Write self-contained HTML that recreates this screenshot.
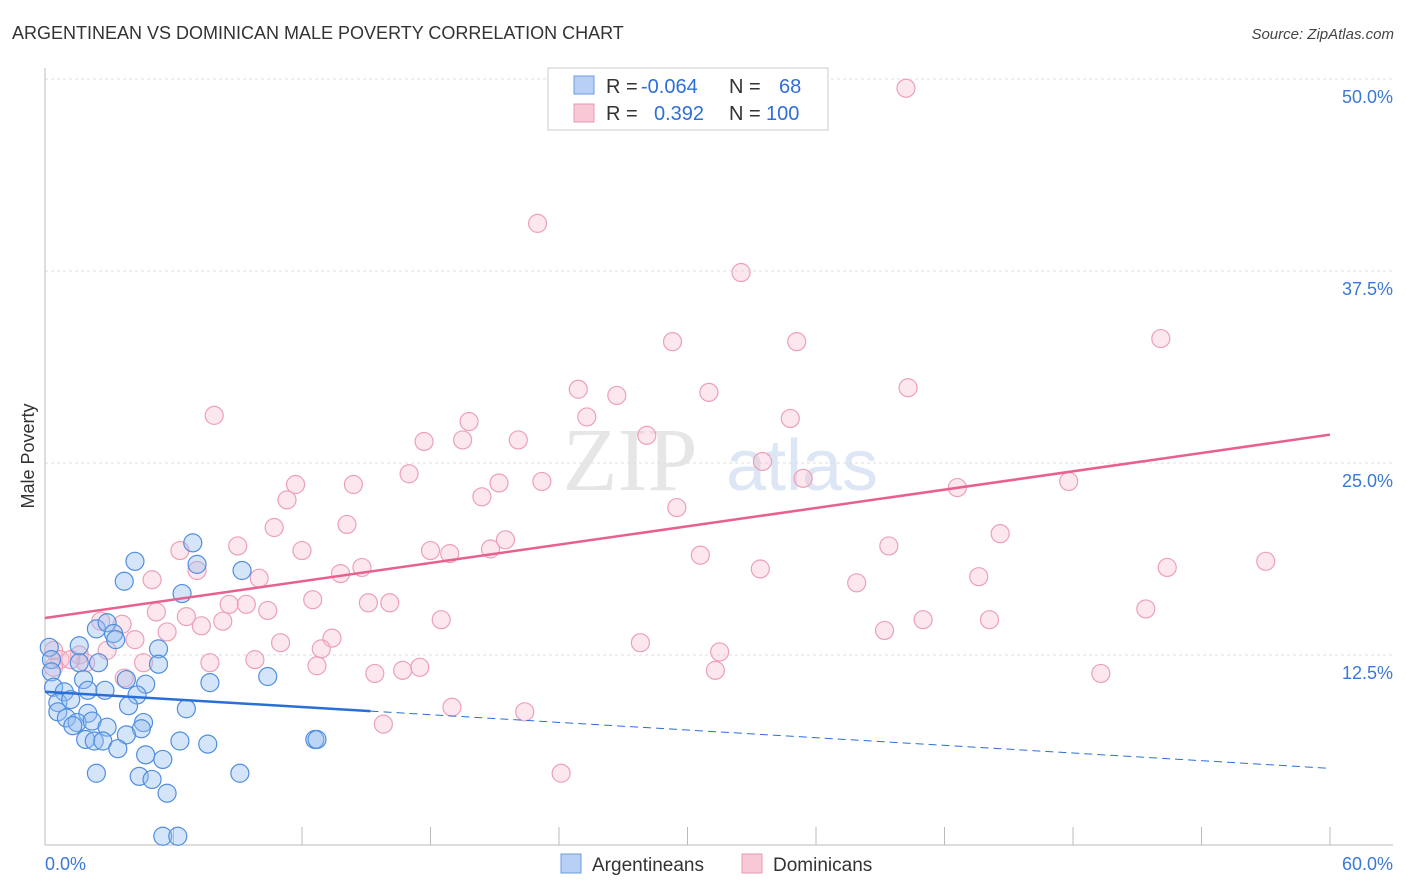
<!DOCTYPE html>
<html><head><meta charset="utf-8"><style>
body{margin:0;background:#fff;font-family:"Liberation Sans",sans-serif}
svg{display:block}
</style></head><body>
<svg id="chart" width="1406" height="892">
<text x="12" y="39" font-size="18" fill="#333">ARGENTINEAN VS DOMINICAN MALE POVERTY CORRELATION CHART</text>
<text x="1394" y="39" font-size="15" fill="#444" font-style="italic" text-anchor="end">Source: ZipAtlas.com</text>
<text x="630" y="490" font-size="90" fill="#e6e6e6" font-family="Liberation Serif,serif" text-anchor="middle">ZIP</text>
<text x="802" y="490" font-size="72" fill="#dce6f5" text-anchor="middle">atlas</text>
<text x="34" y="456" font-size="18" fill="#333" text-anchor="middle" transform="rotate(-90 34 456)">Male Poverty</text>
<g id="grid"></g><g id="axes"></g><g id="pts"></g><g id="lines"></g>
<g>
<rect x="548" y="68" width="280" height="62" fill="#fff" stroke="#ccc"/>
<rect x="574" y="76" width="20" height="18" fill="#b8d0f5" stroke="#6a9ce0"/>
<rect x="574" y="104" width="20" height="18" fill="#f9c8d6" stroke="#e89ab0"/>
<text x="606" y="93" font-size="20" fill="#333">R = <tspan x="641" fill="#2f6fd8">-0.064</tspan><tspan x="729">N = </tspan><tspan x="779" fill="#2f6fd8">68</tspan></text>
<text x="606" y="120" font-size="20" fill="#333">R = <tspan x="654" fill="#2f6fd8">0.392</tspan><tspan x="729">N = </tspan><tspan x="766" fill="#2f6fd8">100</tspan></text>
</g>
<g>
<rect x="561" y="854" width="20" height="19" fill="#b8d0f5" stroke="#6a9ce0"/>
<text x="592" y="871" font-size="19" fill="#333">Argentineans</text>
<rect x="742" y="854" width="20" height="19" fill="#f9c8d6" stroke="#e89ab0"/>
<text x="773" y="871" font-size="19" fill="#333">Dominicans</text>
</g>
</svg>
<script>
const xTicks=[0,6,12,18,24,30,36,42,48,54,60];
const yTicks=[12.5,25,37.5,50];
const yTickLabels=["12.5%","25.0%","37.5%","50.0%"];
const blueX=[6.9,4.2,7.1,9.2,3.7,6.4,2.4,2.9,3.2,3.3,1.6,0.2,5.3,0.3,2.5,5.3,1.6,0.3,1.8,3.8,4.7,7.7,10.4,0.4,0.9,2.0,2.8,4.3,0.6,1.2,0.6,3.9,6.6,2.0,1.0,1.5,2.2,2.9,4.6,4.5,1.3,1.9,2.3,2.7,3.8,6.3,7.6,3.4,12.6,4.7,5.5,2.4,4.4,5.0,9.1,5.7,5.5,6.2,12.7];
const blueY=[19.8,18.6,18.4,18.0,17.3,16.5,14.2,14.6,13.9,13.5,13.1,13.0,12.9,12.2,12.0,11.9,12.0,11.4,10.9,10.9,10.6,10.7,11.1,10.4,10.1,10.2,10.2,9.9,9.4,9.6,8.8,9.2,9.0,8.7,8.4,8.1,8.2,7.8,8.1,7.7,7.9,7.0,6.9,6.9,7.3,6.9,6.7,6.4,7.0,6.0,5.7,4.8,4.6,4.4,4.8,3.5,0.7,0.7,7.0];
const pinkX=[40.2,23.0,32.5,29.3,35.1,52.1,24.9,26.7,31.0,40.3,7.9,25.3,19.8,34.8,17.7,19.5,22.1,28.1,33.5,17.0,11.7,14.4,21.2,23.2,35.4,47.8,42.6,11.3,20.4,29.5,10.7,14.1,44.6,21.5,9.0,6.3,12.0,18.0,18.9,20.8,39.4,30.6,57.0,52.4,33.4,14.8,13.8,43.6,10.0,5.0,37.9,7.1,12.5,8.6,9.4,15.1,16.1,5.2,10.4,51.4,6.6,18.5,41.0,44.1,8.3,7.3,2.6,3.6,5.7,39.2,13.4,4.2,11.0,27.8,12.9,2.9,31.5,0.4,1.6,4.6,7.7,9.8,12.7,1.9,0.7,16.7,17.5,15.4,31.3,49.3,3.7,19.0,22.4,15.8,24.1,1.2,0.4];
const pinkY=[49.4,40.6,37.4,32.9,32.9,33.1,29.8,29.4,29.6,29.9,28.1,28.0,27.7,27.9,26.4,26.5,26.5,26.8,25.1,24.3,23.6,23.6,23.7,23.8,24.0,23.8,23.4,22.6,22.8,22.1,20.8,21.0,20.4,20.0,19.6,19.3,19.3,19.3,19.1,19.4,19.6,19.0,18.6,18.2,18.1,18.2,17.8,17.6,17.5,17.4,17.2,18.0,16.1,15.8,15.8,15.9,15.9,15.3,15.4,15.5,15.0,14.8,14.8,14.8,14.7,14.4,14.7,14.5,14.0,14.1,13.6,13.5,13.3,13.3,12.9,12.8,12.7,12.8,12.5,12.0,12.0,12.2,11.8,12.0,12.2,11.5,11.7,11.3,11.5,11.3,11.0,9.1,8.8,8.0,4.8,12.2,11.7];
const X0=45,X1=1330,YB=847,YS=15.36;
const sx=v=>X0+(X1-X0)*v/60, sy=v=>YB-v*YS;
const NS="http://www.w3.org/2000/svg";
function mk(t,a,p){const e=document.createElementNS(NS,t);for(const k in a)e.setAttribute(k,a[k]);p.appendChild(e);return e;}
const grid=document.getElementById('grid'),axes=document.getElementById('axes'),pts=document.getElementById('pts'),lines=document.getElementById('lines');
yTicks.forEach((t,i)=>{
 const g=mk('line',{x1:X0,x2:1393,y1:sy(t),y2:sy(t),stroke:'#ddd','stroke-dasharray':'3,3'},grid);
 
 
 const l=mk('text',{x:1393,y:sy(t)+24,'font-size':18,fill:'#3a78d8','text-anchor':'end'},axes);
 l.textContent=yTickLabels[i];
 
 
});
const ya=mk('line',{x1:X0,x2:X0,y1:68,y2:845,stroke:'#bbb'},axes);


const xa=mk('line',{x1:X0,x2:1393,y1:845,y2:845,stroke:'#bbb'},axes);


xTicks.forEach(t=>{if(t>0){const k=mk('line',{x1:sx(t),x2:sx(t),y1:827,y2:845,stroke:'#bbb'},axes);
 
 }});
const xl0=mk('text',{x:45,y:870,'font-size':18,fill:'#3a78d8'},axes);xl0.textContent=xTicks[0].toFixed(1)+'%';


const xl1=mk('text',{x:1393,y:870,'font-size':18,fill:'#3a78d8','text-anchor':'end'},axes);xl1.textContent=xTicks[xTicks.length-1].toFixed(1)+'%';


function dots(X,Y,fill,stroke,name){X.forEach((x,i)=>{const c=mk('circle',{cx:sx(x),cy:sy(Y[i]),r:9,fill:fill,stroke:stroke,'stroke-width':1.2},pts);
 
 });}
dots(pinkX,pinkY,'rgba(248,185,205,0.35)','#eca0b8','dominican-point');
dots(blueX,blueY,'rgba(150,190,240,0.4)','#4f8ee0','argentinean-point');
function fit(X,Y){const n=X.length;let mx=0,my=0;for(let i=0;i<n;i++){mx+=X[i];my+=Y[i];}mx/=n;my/=n;let a=0,b=0;for(let i=0;i<n;i++){a+=(X[i]-mx)*(Y[i]-my);b+=(X[i]-mx)**2;}const s=a/b;return [my-s*mx,s];}
const [pb,ps]=fit(pinkX,pinkY);
const pl=mk('line',{x1:sx(0),y1:sy(pb),x2:sx(60),y2:sy(pb+60*ps),stroke:'#e8608e','stroke-width':2.5},lines);


const [bb,bs]=fit(blueX,blueY);
const bl=mk('line',{x1:sx(0),y1:sy(bb),x2:sx(15.2),y2:sy(bb+15.2*bs),stroke:'#2a6fd6','stroke-width':2.5},lines);


const bd=mk('line',{x1:sx(15.2),y1:sy(bb+15.2*bs),x2:sx(60),y2:sy(bb+60*bs),stroke:'#2a6fd6','stroke-width':1,'stroke-dasharray':'8,5'},lines);


</script>
</body></html>
